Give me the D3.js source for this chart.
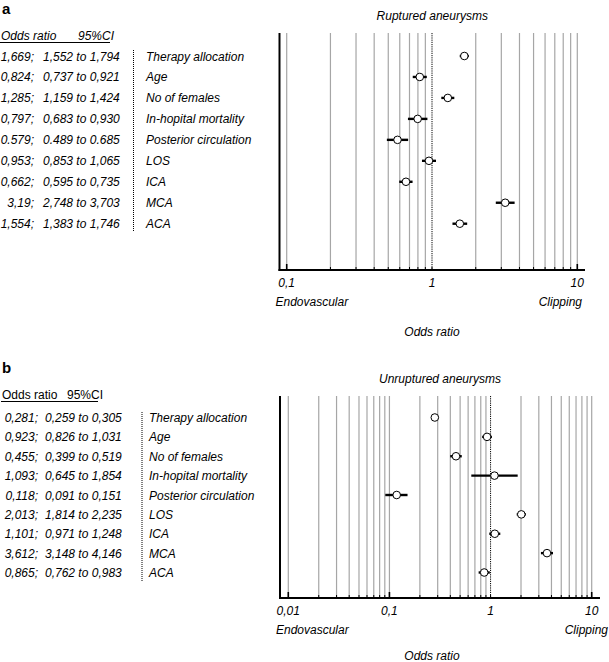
<!DOCTYPE html>
<html><head><meta charset="utf-8">
<script src="https://cdn.jsdelivr.net/npm/d3@7"></script>
<style>
html,body{margin:0;padding:0;background:#fff;}
svg text{font-family:"Liberation Sans",Arial,sans-serif;}
</style></head>
<body><svg id="c" width="609" height="662"></svg>
<script>
// ---------- DATA ----------
const categories = ["Therapy allocation","Age","No of females","In-hopital mortality","Posterior circulation","LOS","ICA","MCA","ACA"];

// Panel a: ruptured aneurysms
const orA = [1.669,0.824,1.285,0.797,0.579,0.953,0.662,3.19,1.554];
const loA = [1.552,0.737,1.159,0.683,0.489,0.853,0.595,2.748,1.383];
const hiA = [1.794,0.921,1.424,0.930,0.685,1.065,0.735,3.703,1.746];
const orTextA = ["1,669;","0,824;","1,285;","0,797;","0.579;","0,953;","0,662;","3,19;","1,554;"];
const ciTextA = ["1,552 to 1,794","0,737 to 0,921","1,159 to 1,424","0,683 to 0,930","0.489 to 0.685","0,853 to 1,065","0,595 to 0,735","2,748 to 3,703","1,383 to 1,746"];

// Panel b: unruptured aneurysms
const orB = [0.281,0.923,0.455,1.093,0.118,2.013,1.101,3.612,0.865];
const loB = [0.259,0.826,0.399,0.645,0.091,1.814,0.971,3.148,0.762];
const hiB = [0.305,1.031,0.519,1.854,0.151,2.235,1.248,4.146,0.983];
const orTextB = ["0,281;","0,923;","0,455;","1,093;","0,118;","2,013;","1,101;","3,612;","0,865;"];
const ciTextB = ["0,259 to 0,305","0,826 to 1,031","0,399 to 0,519","0,645 to 1,854","0,091 to 0,151","1,814 to 2,235","0,971 to 1,248","3,148 to 4,146","0,762 to 0,983"];

const tickLabelsA = [{v:0.1,t:"0,1"},{v:1,t:"1"},{v:10,t:"10"}];
const tickLabelsB = [{v:0.01,t:"0,01"},{v:0.1,t:"0,1"},{v:1,t:"1"},{v:10,t:"10"}];

const svg = d3.select("#c");
const FS = 12;

function panel(o){
  const g = svg.append("g");
  const x = d3.scaleLog().domain(o.domain).range(o.xr);
  const y = d3.scalePoint().domain(categories).range(o.yr);
  const rows = categories.map((c,i)=>({c,or:o.or[i],lo:o.lo[i],hi:o.hi[i],ot:o.orText[i],ct:o.ciText[i]}));

  // panel letter
  g.append("text").attr("x",o.letterX).attr("y",o.letterY).attr("font-size",15).attr("font-weight","bold").text(o.letter);
  // header
  const hdr = g.append("text").attr("y",o.hdrY).attr("font-size",FS).attr("font-style",o.hdrItalic?"italic":"normal");
  hdr.append("tspan").attr("x",o.hdrX1).text("Odds ratio");
  hdr.append("tspan").attr("x",o.hdrX2).text("95%CI");
  g.append("line").attr("x1",o.ulX[0]).attr("x2",o.ulX[1]).attr("y1",o.hdrY+2.5).attr("y2",o.hdrY+2.5).attr("stroke","#000").attr("stroke-width",1);

  // table rows
  g.selectAll(".ort").data(rows).join("text").attr("x",o.orX).attr("y",d=>y(d.c)+4.5).attr("text-anchor","end")
    .attr("font-size",FS).attr("font-style","italic").text(d=>d.ot);
  g.selectAll(".cit").data(rows).join("text").attr("x",o.ciX).attr("y",d=>y(d.c)+4.5)
    .attr("font-size",FS).attr("font-style","italic").text(d=>d.ct);
  g.selectAll(".lab").data(rows).join("text").attr("x",o.labX).attr("y",d=>y(d.c)+4.5)
    .attr("font-size",FS).attr("font-style","italic").text(d=>d.c);
  g.append("line").attr("x1",o.sepX).attr("x2",o.sepX).attr("y1",o.sepY[0]).attr("y2",o.sepY[1])
    .attr("stroke","#000").attr("stroke-width",1).attr("stroke-dasharray","1,1");

  // grid
  const lo = Math.log10(o.domain[0]), hi = Math.log10(o.domain[1]);
  const gridVals = [];
  for(let e=lo;e<hi;e++){ for(let k=1;k<10;k++){ gridVals.push(+(k*Math.pow(10,e)).toPrecision(3)); } }
  gridVals.push(o.domain[1]);
  const grid = gridVals.filter(v=>Math.abs(v-1)>1e-9);
  g.selectAll(".grid").data(grid).join("line").attr("x1",d=>x(d)).attr("x2",d=>x(d))
    .attr("y1",o.top).attr("y2",o.bottom).attr("stroke","#a6a6a6").attr("stroke-width",1.2);
  // axis ticks
  g.selectAll(".tk").data(gridVals).join("line").attr("x1",d=>x(d)).attr("x2",d=>x(d))
    .attr("y1",d=>o.bottom-(o.majors.includes(d)?6:3)).attr("y2",o.bottom)
    .attr("stroke","#000").attr("stroke-width",d=>o.majors.includes(d)?1.6:1);
  // reference line at 1
  g.append("line").attr("x1",x(1)).attr("x2",x(1)).attr("y1",o.top).attr("y2",o.bottom)
    .attr("stroke","#000").attr("stroke-width",1).attr("stroke-dasharray","1.2,1");
  // axes
  g.append("line").attr("x1",o.axisX).attr("x2",o.axisX).attr("y1",o.top).attr("y2",o.bottom+1)
    .attr("stroke","#000").attr("stroke-width",2);
  g.append("line").attr("x1",o.axisX-1).attr("x2",o.axisRight).attr("y1",o.bottom).attr("y2",o.bottom)
    .attr("stroke","#000").attr("stroke-width",2);

  // CI bars and points
  g.selectAll(".ci").data(rows).join("line").attr("x1",d=>x(d.lo)).attr("x2",d=>x(d.hi))
    .attr("y1",d=>y(d.c)).attr("y2",d=>y(d.c)).attr("stroke","#000").attr("stroke-width",2.4);
  g.selectAll(".pt").data(rows).join("circle").attr("cx",d=>x(d.or)).attr("cy",d=>y(d.c)).attr("r",3.8)
    .attr("fill","#fff").attr("stroke","#000").attr("stroke-width",1);

  // texts
  const cx = (o.axisX+o.axisRight)/2;
  g.append("text").attr("x",cx).attr("y",o.titleY).attr("text-anchor","middle").attr("font-size",FS)
    .attr("font-style","italic").text(o.title);
  g.selectAll(".tl").data(o.tickLabels).join("text").attr("x",d=>x(d.v)).attr("y",o.bottom+17)
    .attr("text-anchor","middle").attr("font-size",FS).attr("font-style","italic").text(d=>d.t);
  g.append("text").attr("x",o.axisX-4).attr("y",o.bottom+36).attr("font-size",FS).attr("font-style","italic").text("Endovascular");
  g.append("text").attr("x",o.clipX).attr("y",o.bottom+36).attr("text-anchor","end").attr("font-size",FS).attr("font-style","italic").text("Clipping");
  g.append("text").attr("x",432).attr("y",o.orLabY).attr("text-anchor","middle").attr("font-size",FS).attr("font-style","italic").text("Odds ratio");
}

panel({letter:"a",letterX:2,letterY:14,hdrY:40,hdrItalic:true,hdrX1:1,hdrX2:78,ulX:[0,110],
  or:orA,lo:loA,hi:hiA,orText:orTextA,ciText:ciTextA,orX:34,ciX:43,labX:146,sepX:133.5,sepY:[50,231],
  domain:[0.1,10],xr:[286.7,577.3],yr:[56,223.7],top:33,bottom:270,axisX:279.5,axisRight:585,
  majors:[0.1,10],tickLabels:tickLabelsA,title:"Ruptured aneurysms",titleY:20,clipX:582,orLabY:336});

panel({letter:"b",letterX:2,letterY:373,hdrY:399,hdrItalic:false,hdrX1:2,hdrX2:67,ulX:[1,98],
  or:orB,lo:loB,hi:hiB,orText:orTextB,ciText:ciTextB,orX:38,ciX:45,labX:149,sepX:142,sepY:[412,582],
  domain:[0.01,10],xr:[288.3,591.7],yr:[417.5,572.5],top:396,bottom:598,axisX:280,axisRight:600,
  majors:[0.01,0.1,10],tickLabels:tickLabelsB,title:"Unruptured aneurysms",titleY:383,clipX:608,orLabY:660});
</script></body></html>
